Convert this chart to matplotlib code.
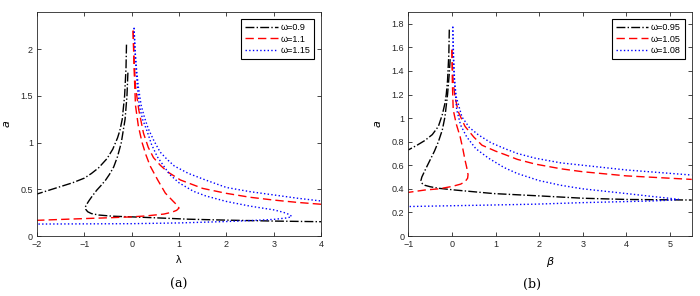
import matplotlib
matplotlib.use("Agg")
import matplotlib.pyplot as plt
import numpy as np

plt.rcParams["font.family"] = ["Liberation Sans", "DejaVu Sans"]

# ---- panel (a): lambda vs a, omega = 0.9 / 1.1 / 1.15 ----
lam_09_out = [-0.11, -0.12, -0.15, -0.2, -0.25, -0.3, -0.4, -0.52, -0.7, -0.85, -1.0,
              -1.25, -1.5, -1.75, -2.0]
a_09_out   = [2.05, 1.8, 1.5, 1.25, 1.13, 1.05, 0.93, 0.83, 0.73, 0.67, 0.62,
              0.57, 0.53, 0.49, 0.45]
lam_09_in  = [-0.08, -0.1, -0.14, -0.22, -0.3, -0.38, -0.47, -0.55, -0.65, -0.74, -0.83,
              -0.9, -0.95, -0.98, -0.97, -0.93, -0.85, -0.7, -0.4, 0.0, 0.5, 1.2, 2.0, 3.0, 4.0]
a_09_in    = [1.75, 1.5, 1.25, 1.0, 0.85, 0.74, 0.66, 0.6, 0.54, 0.49, 0.43,
              0.38, 0.34, 0.31, 0.285, 0.26, 0.24, 0.225, 0.212, 0.205, 0.195, 0.18, 0.17,
              0.16, 0.153]

lam_11_out = [0.03, 0.05, 0.08, 0.15, 0.25, 0.35, 0.46, 0.6, 0.75, 1.03, 1.5, 2.0, 2.5,
              3.0, 3.5, 4.0]
a_11_out   = [2.2, 1.9, 1.6, 1.35, 1.1, 0.95, 0.84, 0.76, 0.69, 0.6, 0.51, 0.457, 0.415,
              0.385, 0.36, 0.34]
lam_11_in  = [0.03, 0.05, 0.08, 0.14, 0.22, 0.3, 0.39, 0.55, 0.71, 0.88, 0.96, 1.0, 0.95,
              0.85, 0.68, 0.3, 0.0, -0.5, -1.09, -2.0]
a_11_in    = [2.2, 1.8, 1.4, 1.18, 1.0, 0.87, 0.75, 0.6, 0.46, 0.37, 0.33, 0.3, 0.275,
              0.255, 0.235, 0.215, 0.205, 0.195, 0.185, 0.168]

lam_115_out = [0.05, 0.07, 0.1, 0.14, 0.2, 0.27, 0.35, 0.47, 0.6, 0.75, 0.9, 1.2, 1.56,
               2.0, 2.5, 3.0, 3.5, 4.0]
a_115_out   = [2.23, 2.0, 1.8, 1.6, 1.4, 1.27, 1.15, 1.02, 0.9, 0.82, 0.75, 0.67, 0.6,
               0.52, 0.475, 0.44, 0.405, 0.375]
lam_115_in  = [0.05, 0.07, 0.09, 0.12, 0.16, 0.23, 0.32, 0.42, 0.54, 0.8, 1.0, 1.3, 1.56,
               2.0, 2.5, 3.0, 3.2, 3.33, 3.38, 3.3, 3.0, 2.5, 2.0, 1.0, 0.0, -1.0, -2.0]
a_115_in    = [2.23, 2.0, 1.8, 1.6, 1.4, 1.25, 1.13, 0.98, 0.85, 0.66, 0.57, 0.48, 0.43,
               0.37, 0.32, 0.28, 0.255, 0.23, 0.21, 0.195, 0.178, 0.165, 0.155, 0.14,
               0.132, 0.13, 0.128]

# ---- panel (b): beta vs a, omega = 0.95 / 1.05 / 1.08 ----
bet_095_out = [-0.06, -0.07, -0.1, -0.13, -0.16, -0.22, -0.31, -0.45, -0.62, -0.8, -1.0]
a_095_out   = [1.75, 1.55, 1.32, 1.2, 1.125, 1.03, 0.93, 0.86, 0.81, 0.77, 0.73]
bet_095_in  = [-0.04, -0.06, -0.1, -0.16, -0.22, -0.31, -0.4, -0.5, -0.6, -0.69, -0.71,
               -0.68, -0.62, -0.5, -0.31, 0.07, 0.95, 1.91, 3.02, 4.02, 5.5]
a_095_in    = [1.5, 1.38, 1.2, 1.01, 0.9, 0.8, 0.72, 0.645, 0.57, 0.5, 0.47,
               0.445, 0.43, 0.418, 0.405, 0.39, 0.36, 0.342, 0.32, 0.31, 0.305]

bet_105_out = [0.0, 0.01, 0.03, 0.07, 0.15, 0.3, 0.5, 0.69, 1.0, 1.22, 1.5, 1.91, 2.5,
               3.0, 4.0, 5.5]
a_105_out   = [1.58, 1.45, 1.3, 1.18, 1.05, 0.93, 0.84, 0.77, 0.72, 0.69, 0.65, 0.61,
               0.57, 0.545, 0.51, 0.48]
bet_105_in  = [0.0, 0.005, 0.01, 0.03, 0.1, 0.19, 0.25, 0.3, 0.34, 0.37, 0.36, 0.3, 0.2,
               0.0, -0.3, -0.62, -1.0]
a_105_in    = [1.58, 1.45, 1.3, 1.07, 0.95, 0.84, 0.74, 0.645, 0.58, 0.52, 0.49, 0.46,
               0.44, 0.42, 0.40, 0.39, 0.37]

bet_108_out = [0.02, 0.03, 0.05, 0.1, 0.23, 0.4, 0.61, 0.9, 1.22, 1.5, 1.91, 2.5, 3.0,
               4.0, 5.5]
a_108_out   = [1.775, 1.55, 1.35, 1.18, 1.01, 0.92, 0.857, 0.79, 0.74, 0.70, 0.66, 0.62,
               0.60, 0.56, 0.517]
bet_108_in  = [0.02, 0.04, 0.07, 0.11, 0.2, 0.34, 0.55, 0.84, 1.2, 1.5, 2.0, 2.5, 3.0,
               4.0, 4.6, 4.86, 5.1, 5.2, 4.9, 4.56, 3.0, 1.91, 0.95, -1.0]
a_108_in    = [1.775, 1.5, 1.25, 1.07, 0.94, 0.84, 0.74, 0.66, 0.58, 0.53, 0.47, 0.43,
               0.40, 0.36, 0.335, 0.325, 0.315, 0.31, 0.302, 0.297, 0.283, 0.27, 0.263, 0.25]

C_BLK = "black"; C_RED = "#ff0000"; C_BLU = "#0000ff"
ST = [("-.", C_BLK), ((0, (6, 3)), C_RED), (":", C_BLU)]

fig = plt.figure(figsize=(7, 2.96), dpi=100)
ax1 = fig.add_axes([0.0529, 0.2027, 0.4057, 0.7568])
ax2 = fig.add_axes([0.5833, 0.2027, 0.4049, 0.7568])


def draw(ax, curves, labels):
    for (xo, yo, xi, yi), (ls, c), lab in zip(curves, ST, labels):
        ax.plot(xo, yo, ls=ls, color=c, lw=1.0, label=lab)
        ax.plot(xi, yi, ls=ls, color=c, lw=1.0)
    leg = ax.legend(loc="upper right", fontsize=6.5, handlelength=3.6, fancybox=False,
                    edgecolor="black", framealpha=1, borderpad=0.4, labelspacing=0.3,
                    handletextpad=0.3, borderaxespad=0.8)
    leg.get_frame().set_linewidth(0.8)
    ax.tick_params(direction="in", top=True, right=True, labelsize=6.5, length=3,
                   width=0.6, colors="#262626", pad=3)
    for s in ax.spines.values():
        s.set_color("#262626"); s.set_linewidth(0.6)


draw(ax1, [(lam_09_out, a_09_out, lam_09_in, a_09_in),
           (lam_11_out, a_11_out, lam_11_in, a_11_in),
           (lam_115_out, a_115_out, lam_115_in, a_115_in)],
     ["ω=0.9", "ω=1.1", "ω=1.15"])
ax1.set_xlim(-2, 4); ax1.set_ylim(0, 2.4)
ax1.set_xticks(range(-2, 5)); ax1.set_yticks([0, 0.5, 1, 1.5, 2])
ax1.set_yticklabels(["0", "0.5", "1", "1.5", "2"])
ax1.set_xlabel("λ", fontsize=8, labelpad=4)
ax1.set_ylabel("$a$", fontsize=8, labelpad=6)

draw(ax2, [(bet_095_out, a_095_out, bet_095_in, a_095_in),
           (bet_105_out, a_105_out, bet_105_in, a_105_in),
           (bet_108_out, a_108_out, bet_108_in, a_108_in)],
     ["ω=0.95", "ω=1.05", "ω=1.08"])
ax2.set_xlim(-1, 5.5); ax2.set_ylim(0, 1.9)
ax2.set_xticks(range(-1, 6))
yt = np.round(np.arange(0, 1.81, 0.2), 1)
ax2.set_yticks(yt)
ax2.set_yticklabels([f"{v:g}" for v in yt])
ax2.set_xlabel("$\\beta$", fontsize=8, labelpad=4)
ax2.set_ylabel("$a$", fontsize=8, labelpad=6)

fig.text(179 / 700, 1 - 284 / 296, "(a)", ha="center", va="center",
         family="DejaVu Serif", fontsize=9)
fig.text(532 / 700, 1 - 284 / 296, "(b)", ha="center", va="center",
         family="DejaVu Serif", fontsize=9)

fig.savefig("out.png", dpi=100, facecolor="white")
